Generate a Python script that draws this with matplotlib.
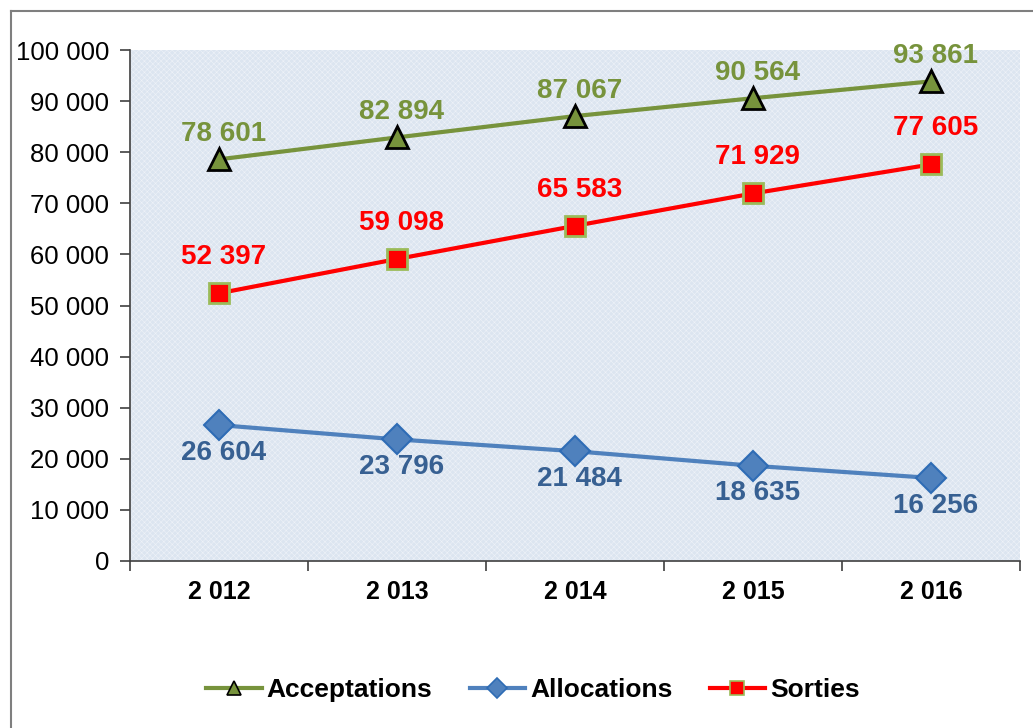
import matplotlib
matplotlib.use('Agg')
import matplotlib.pyplot as plt
from matplotlib.lines import Line2D
import numpy as np

plt.rcParams['font.family'] = ['Liberation Sans', 'DejaVu Sans']
plt.rcParams['hatch.linewidth'] = 0.4

# données
annees = ['2 012', '2 013', '2 014', '2 015', '2 016']
acceptations = [78601, 82894, 87067, 90564, 93861]
allocations = [26604, 23796, 21484, 18635, 16256]
sorties = [52397, 59098, 65583, 71929, 77605]

def fmt(v):
    return '{:,}'.format(v).replace(',', ' ')

fig = plt.figure(figsize=(10.33, 7.28), dpi=100)
ax = fig.add_axes([130 / 1033, 1 - 561 / 728, 890 / 1033, 511 / 728])

ax.set_facecolor('#dce5f0')
ax.patch.set_hatch('xxxxxx')
ax.patch.set_edgecolor('#eef2f8')

x = np.arange(len(annees))

ax.plot(x, acceptations, color='#77933c', lw=3, marker='^', ms=16,
        mfc='#77933c', mec='black', mew=2, zorder=3, label='Acceptations')
ax.plot(x, allocations, color='#4f81bd', lw=3, marker='D', ms=15,
        mfc='#4f81bd', mec='#2e6cb5', mew=1.5, zorder=3, label='Allocations')
ax.plot(x, sorties, color='#ff0000', lw=3, marker='s', ms=14,
        mfc='#ff0000', mec='#9bbb59', mew=2, zorder=3, label='Sorties')

for i in x:
    ax.annotate(fmt(acceptations[i]), (i, acceptations[i]), xytext=(3, 13),
                textcoords='offset points', ha='center', va='baseline',
                fontsize=20, fontweight='bold', color='#77933c')
    ax.annotate(fmt(sorties[i]), (i, sorties[i]), xytext=(3, 21),
                textcoords='offset points', ha='center', va='baseline',
                fontsize=20, fontweight='bold', color='#ff0000')
    ax.annotate(fmt(allocations[i]), (i, allocations[i]), xytext=(3, -25),
                textcoords='offset points', ha='center', va='baseline',
                fontsize=20, fontweight='bold', color='#376092')

ax.set_xlim(-0.5, 4.5)
ax.set_ylim(0, 100000)
ax.set_yticks(np.arange(0, 100001, 10000))
ax.set_yticklabels([fmt(v) for v in range(0, 100001, 10000)], fontsize=18.5)
ax.set_xticks(x)
ax.set_xticklabels(annees, fontsize=18, fontweight='bold')
ax.set_xticks(np.arange(-0.5, 4.6, 1), minor=True)
ax.tick_params(axis='x', which='major', length=0, pad=14)
ax.tick_params(axis='x', which='minor', length=7, width=1.2, color='#404040')
ax.tick_params(axis='y', length=7, width=1.2, color='#404040', pad=8)

for s in ['top', 'right']:
    ax.spines[s].set_visible(False)
for s in ['left', 'bottom']:
    ax.spines[s].set_color('#404040')
    ax.spines[s].set_linewidth(1.2)

leg = fig.legend(loc='center', bbox_to_anchor=(533 / 1033, 1 - 690 / 728),
                 ncol=3, frameon=False, fontsize=19, handlelength=2.1,
                 columnspacing=1.4, handletextpad=0.2)
for t in leg.get_texts():
    t.set_fontweight('bold')
for h in leg.legend_handles:
    h.set_markersize(10)
    h.set_markeredgewidth(1.2)

# cadre
fig.add_artist(Line2D([11 / 1033, 11 / 1033], [0, 1 - 11 / 728],
                      transform=fig.transFigure, color='#7f7f7f', lw=1.5))
fig.add_artist(Line2D([11 / 1033, 1], [1 - 11 / 728, 1 - 11 / 728],
                      transform=fig.transFigure, color='#7f7f7f', lw=1.5))

fig.savefig('out.png', dpi=100)
